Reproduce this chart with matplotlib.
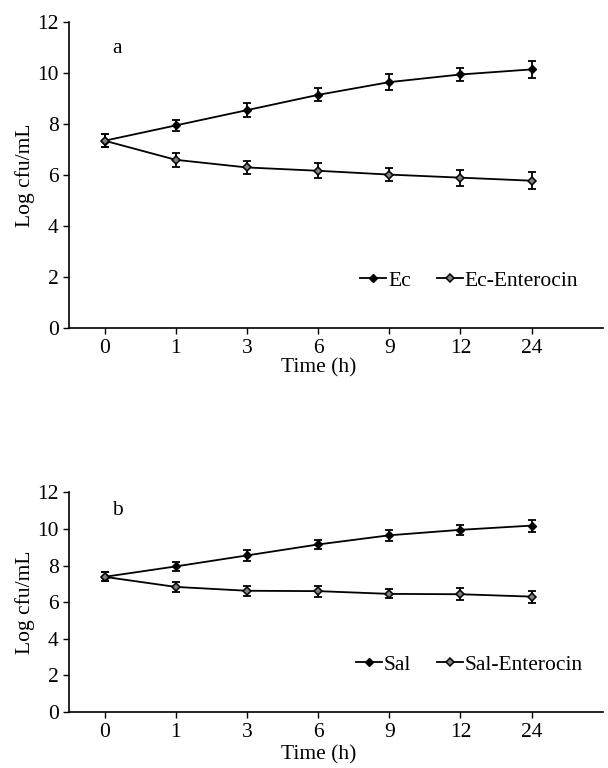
import matplotlib
matplotlib.use("Agg")
import matplotlib.pyplot as plt
import numpy as np

plt.rcParams["font.family"] = ["Liberation Serif", "DejaVu Serif"]

times = ["0", "1", "3", "6", "9", "12", "24"]

ec = [7.35, 7.95, 8.55, 9.15, 9.65, 9.95, 10.15]
ec_err = [0.25, 0.22, 0.28, 0.25, 0.30, 0.27, 0.32]
ec_ent = [7.35, 6.60, 6.30, 6.17, 6.02, 5.90, 5.78]
ec_ent_err = [0.25, 0.28, 0.27, 0.30, 0.27, 0.32, 0.33]

sal = [7.38, 7.95, 8.55, 9.15, 9.65, 9.95, 10.18]
sal_err = [0.25, 0.25, 0.28, 0.25, 0.30, 0.27, 0.33]
sal_ent = [7.38, 6.83, 6.62, 6.60, 6.45, 6.43, 6.30]
sal_ent_err = [0.25, 0.28, 0.27, 0.30, 0.25, 0.32, 0.33]

FS = 15.5


def panel(ax, a, a_err, b, b_err, names, tag, leg_y, xlab_y):
    x = np.arange(len(times))
    ebk = dict(fmt="none", ecolor="black", capsize=3, elinewidth=1.3, capthick=1.3)
    ax.errorbar(x, a, yerr=a_err, **ebk)
    ax.errorbar(x, b, yerr=b_err, **ebk)
    ax.plot(x, a, color="black", lw=1.3, marker="D", ms=4.5,
            mfc="black", mec="black", label=names[0])
    ax.plot(x, b, color="black", lw=1.3, marker="D", ms=4.5,
            mfc="#808080", mec="black", mew=1.1, label=names[1])
    ax.set_xlim(-0.5, 7.0)
    ax.set_ylim(0, 12)
    ax.set_yticks(range(0, 13, 2))
    ax.set_xticks(x)
    ax.set_xticklabels(times)
    ax.tick_params(axis="both", labelsize=FS, direction="out", length=4, width=1)
    ax.tick_params(axis="x", pad=4)
    for s in ("top", "right"):
        ax.spines[s].set_visible(False)
    for s in ("left", "bottom"):
        ax.spines[s].set_linewidth(1.2)
    ax.set_ylabel("Log cfu/mL", fontsize=FS)
    ax.set_xlabel("Time (h)", fontsize=FS)
    ax.xaxis.set_label_coords(0.468, xlab_y)
    ax.yaxis.set_label_coords(-0.064, 0.5)
    ax.text(0.09, 0.915, tag, transform=ax.transAxes, fontsize=FS, ha="center", va="center")
    ax.legend(loc="center", bbox_to_anchor=(0.75, leg_y), ncol=2, frameon=False,
              fontsize=FS, handlelength=1.2, handletextpad=0.1, columnspacing=1.2)


fig = plt.figure(figsize=(6.08, 7.68), dpi=100)
ax1 = fig.add_axes([0.1135, 0.573, 0.878, 0.398])
ax2 = fig.add_axes([0.1135, 0.073, 0.878, 0.286])

panel(ax1, ec, ec_err, ec_ent, ec_ent_err, ["Ec", "Ec-Enterocin"], "a", 0.154, -0.1)
panel(ax2, sal, sal_err, sal_ent, sal_ent_err, ["Sal", "Sal-Enterocin"], "b", 0.214, -0.15)

fig.savefig("out.png", dpi=100)
